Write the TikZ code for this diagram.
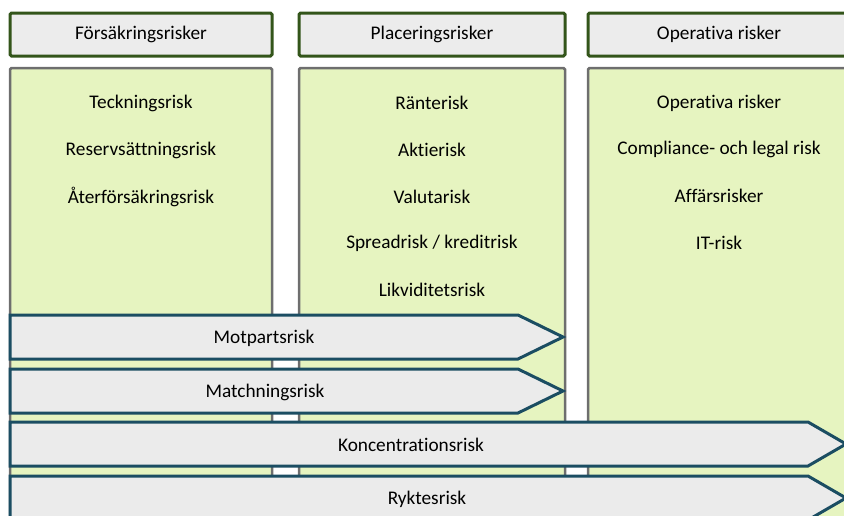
\documentclass[tikz,border=0pt]{standalone}
\usepackage{fontspec}
\setmainfont[Ligatures=CommonOff]{Carlito}
\definecolor{hdrfill}{HTML}{ECECEC}
\definecolor{hdrline}{HTML}{33551A}
\definecolor{bodyfill}{HTML}{E6F4C0}
\definecolor{bodyline}{HTML}{6E6E6E}
\definecolor{arrfill}{HTML}{EBEBEB}
\definecolor{arrline}{HTML}{1B4D62}
\begin{document}
\begin{tikzpicture}[x=1pt,y=-1pt,
  hdr/.style={draw=hdrline,fill=hdrfill,line width=3pt,rounded corners=1.5pt},
  body/.style={draw=bodyline,fill=bodyfill,line width=2.5pt,rounded corners=1.5pt},
  arr/.style={draw=arrline,fill=arrfill,line width=3pt,line join=miter},
  lbl/.style={font=\fontsize{19.3}{22}\selectfont,inner sep=0pt,anchor=center}]
\useasboundingbox (0,0) rectangle (844,515);
\clip (0,0) rectangle (844,515);
% headers
\draw[hdr] (10,13) rectangle (272,56);
\draw[hdr] (299,13) rectangle (565,56);
\draw[hdr] (588,13) rectangle (860,56);
\node[lbl] (h1) at (141,34) {Försäkringsrisker};
\node[lbl] (h2) at (432,34) {Placeringsrisker};
\node[lbl] (h3) at (719,34) {Operativa risker};
% bodies
\draw[body] (10,68) rectangle (272,540);
\draw[body] (299,68) rectangle (565,540);
\draw[body] (588,68) rectangle (860,540);
\node[lbl] (a1) at (141,103) {Teckningsrisk};
\node[lbl] (a2) at (141,150) {Reservsättningsrisk};
\node[lbl] (a3) at (141,197) {Återförsäkringsrisk};
\node[lbl] (b1) at (432,103) {Ränterisk};
\node[lbl] (b2) at (432,150) {Aktierisk};
\node[lbl] (b3) at (432,197) {Valutarisk};
\node[lbl] (b4) at (432,243) {Spreadrisk / kreditrisk};
\node[lbl] (b5) at (432,290) {Likviditetsrisk};
\node[lbl] (c1) at (719,103) {Operativa risker};
\node[lbl] (c2) at (719,149) {Compliance- och legal risk};
\node[lbl] (c3) at (719,196) {Affärsrisker};
\node[lbl] (c4) at (719,243) {IT-risk};
% arrows
\draw[arr] (10,315) -- (518,315) -- (563,337) -- (518,359) -- (10,359) -- cycle;
\draw[arr] (10,369) -- (518,369) -- (563,391) -- (518,413) -- (10,413) -- cycle;
\draw[arr] (10,422) -- (808,422) -- (846,444) -- (808,466) -- (10,466) -- cycle;
\draw[arr] (10,476) -- (808,476) -- (846,498) -- (808,520) -- (10,520) -- cycle;
\node[lbl] (r1) at (264,338) {Motpartsrisk};
\node[lbl] (r2) at (265,392) {Matchningsrisk};
\node[lbl] (r3) at (411,445) {Koncentrationsrisk};
\node[lbl] (r4) at (427,499) {Ryktesrisk};
\end{tikzpicture}
\end{document}
